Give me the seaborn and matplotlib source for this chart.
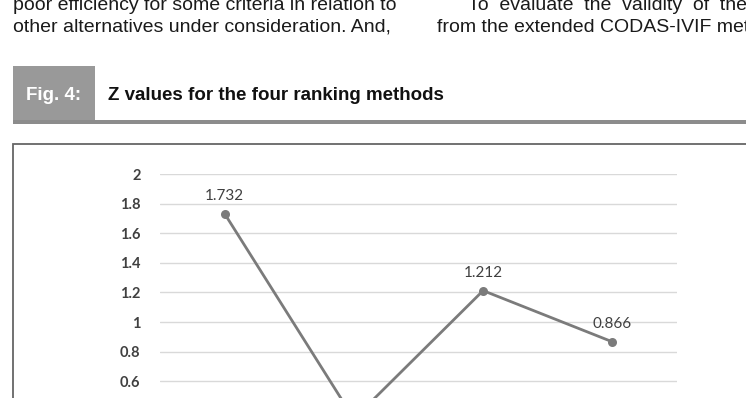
import matplotlib
matplotlib.use("Agg")
import matplotlib.pyplot as plt
from matplotlib.patches import Rectangle
import pandas as pd
import seaborn as sns

# data (second point is below the visible crop, estimated)
methods = ["Method 1", "Method 2", "Method 3", "Method 4"]
z_values = [1.732, 0.346, 1.212, 0.866]
y_ticks = [0.6, 0.8, 1, 1.2, 1.4, 1.6, 1.8, 2]
y_tick_labels = ["0.6", "0.8", "1", "1.2", "1.4", "1.6", "1.8", "2"]

W, H = 746, 398

def fx(x):
    return x / W

def fy(y):
    return 1 - y / H

sns.set_style("white")
plt.rcParams['font.family'] = ['Lato', 'DejaVu Sans']

fig = plt.figure(figsize=(W / 100, H / 100), dpi=100)
fig.patch.set_facecolor("white")

# body text of the page (cut off by the crop, as in the source page)
body = dict(family="Liberation Sans", fontsize=14, color="#1a1a1a", va="baseline")
fig.text(fx(13), fy(9.5), "poor efficiency for some criteria in relation to", **body)
fig.text(fx(13), fy(32), "other alternatives under consideration. And,", **body)
fig.text(fx(468), fy(9.5), "To  evaluate  the  validity  of  the", **body)
fig.text(fx(437), fy(32), "from the extended CODAS-IVIF method", **body)

# figure header
fig.add_artist(Rectangle((fx(13), fy(120)), fx(95) - fx(13), fy(66) - fy(120),
                         transform=fig.transFigure, facecolor="#999999", edgecolor="none"))
fig.add_artist(Rectangle((fx(13), fy(124)), 1.0, fy(120) - fy(124),
                         transform=fig.transFigure, facecolor="#8c8c8c", edgecolor="none"))
fig.text(fx(54), fy(100), "Fig. 4:", family="Liberation Sans", fontsize=13.5, fontweight="bold",
         color="white", ha="center", va="baseline")
fig.text(fx(108), fy(100), "Z values for the four ranking methods", family="Liberation Sans",
         fontsize=13.5, fontweight="bold", color="#111111", va="baseline")

# chart frame
fig.add_artist(Rectangle((fx(13), fy(600)), 1.2, fy(144) - fy(600),
                         transform=fig.transFigure, facecolor="none", edgecolor="#666666", lw=1.3))

# plot area
ax_top = fy(174)
ax_h = 296 / H
ax = fig.add_axes([fx(160), ax_top - ax_h, 517 / W, ax_h])

df = pd.DataFrame({"method": methods, "pos": range(len(methods)), "z": z_values})
sns.lineplot(data=df, x="pos", y="z", ax=ax, color="#7b7b7b", linewidth=2,
             marker="o", markersize=6.5, markeredgewidth=0, zorder=3)

for i, v in enumerate(z_values):
    if i == 1:
        continue  # label of the low point falls outside the crop
    ax.annotate(f"{v:.3f}", (i, v), xytext=(0, 8), textcoords="offset points",
                ha="center", va="bottom", fontsize=11, color="#404040")

ax.set_xlim(-0.5, len(methods) - 0.5)
ax.set_ylim(0, 2)
ax.set_yticks(y_ticks)
ax.set_yticklabels(y_tick_labels, fontweight="bold", fontsize=10.5, color="#404040")
ax.set_xticks([])
ax.tick_params(axis="y", length=0, pad=14)
ax.grid(axis="y", color="#d9d9d9", linewidth=1)
ax.set_axisbelow(True)
ax.set_xlabel("")
ax.set_ylabel("")
for s in ax.spines.values():
    s.set_visible(False)

fig.savefig("out.png", dpi=100)
